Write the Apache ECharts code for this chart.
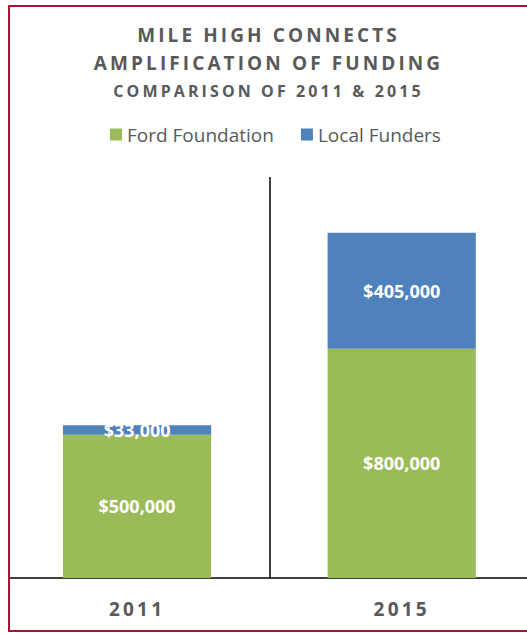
<!DOCTYPE html>
<html><head><meta charset="utf-8">
<script src="https://cdn.jsdelivr.net/npm/echarts@6/dist/echarts.min.js"></script>
<style>
html,body{margin:0;padding:0;width:527px;height:633px;overflow:hidden;background:#fff;}
#frame{position:absolute;left:8px;top:5px;width:600px;height:627px;box-sizing:border-box;border:2px solid #a3162f;}
#chart{position:absolute;left:10px;top:7px;width:517px;height:623px;}
svg text[style*="lsA"]{letter-spacing:3.1px;}
svg text[style*="lsB"]{letter-spacing:3.2px;}
</style></head>
<body>
<div id="frame"></div>
<div id="chart"></div>
<script>
const categories = ['2011', '2015'];
const seriesNames = ['Ford Foundation', 'Local Funders'];
const fordFoundation = [500000, 800000];
const localFunders = [33000, 405000];
const titleLines = ['MILE HIGH CONNECTS', 'AMPLIFICATION OF FUNDING', 'COMPARISON OF 2011 & 2015'];
const colors = ['#9BBB59', '#4F81BD'];

const gray = '#595959';
const spacedFontA = "'Open Sans', lsA";
const spacedFontB = "'Open Sans', lsB";
const money = v => '$' + Number(v).toLocaleString('en-US');

const chart = echarts.init(document.getElementById('chart'), null, {renderer: 'svg'});
const labelStyle = {
  show: true, position: 'inside', color: '#fff', fontFamily: 'Open Sans',
  fontWeight: 'bold', fontSize: 18, formatter: p => money(p.value)
};
chart.setOption({
  animation: false,
  title: [
    {text: titleLines[0], left: 'center', top: 18.5, padding: 0,
     textStyle: {fontFamily: spacedFontA, fontWeight: 'bold', fontSize: 19, color: gray}},
    {text: titleLines[1], left: 'center', top: 46.5, padding: 0,
     textStyle: {fontFamily: spacedFontA, fontWeight: 'bold', fontSize: 19, color: gray}},
    {text: titleLines[2], left: 'center', top: 76, padding: 0,
     textStyle: {fontFamily: spacedFontA, fontWeight: 'bold', fontSize: 16, color: gray}}
  ],
  legend: {
    data: seriesNames, left: 100, top: 118, padding: 0, orient: 'horizontal',
    itemWidth: 12, itemHeight: 12, itemGap: 27, icon: 'rect',
    textStyle: {fontFamily: 'Open Sans', fontSize: 19, color: gray}
  },
  grid: {left: -5.25, right: -7, top: 170, bottom: 52, containLabel: false, outerBoundsMode: 'none'},
  xAxis: {
    type: 'category', data: categories,
    axisLine: {show: true, lineStyle: {color: '#000', width: 1.5}},
    axisTick: {show: false},
    splitLine: {show: true, interval: 0, lineStyle: {color: '#000', width: 1.5}},
    axisLabel: {margin: 21.5, fontFamily: spacedFontB, fontWeight: 'bold', fontSize: 19, color: gray}
  },
  yAxis: {type: 'value', min: 0, max: 1400000, show: false, splitLine: {show: false}},
  series: [
    {name: seriesNames[0], type: 'bar', stack: 'total', data: fordFoundation,
     barWidth: '56%', itemStyle: {color: colors[0]}, label: labelStyle},
    {name: seriesNames[1], type: 'bar', stack: 'total', data: localFunders,
     barWidth: '56%', itemStyle: {color: colors[1]}, label: labelStyle}
  ]
});
</script>
</body></html>
